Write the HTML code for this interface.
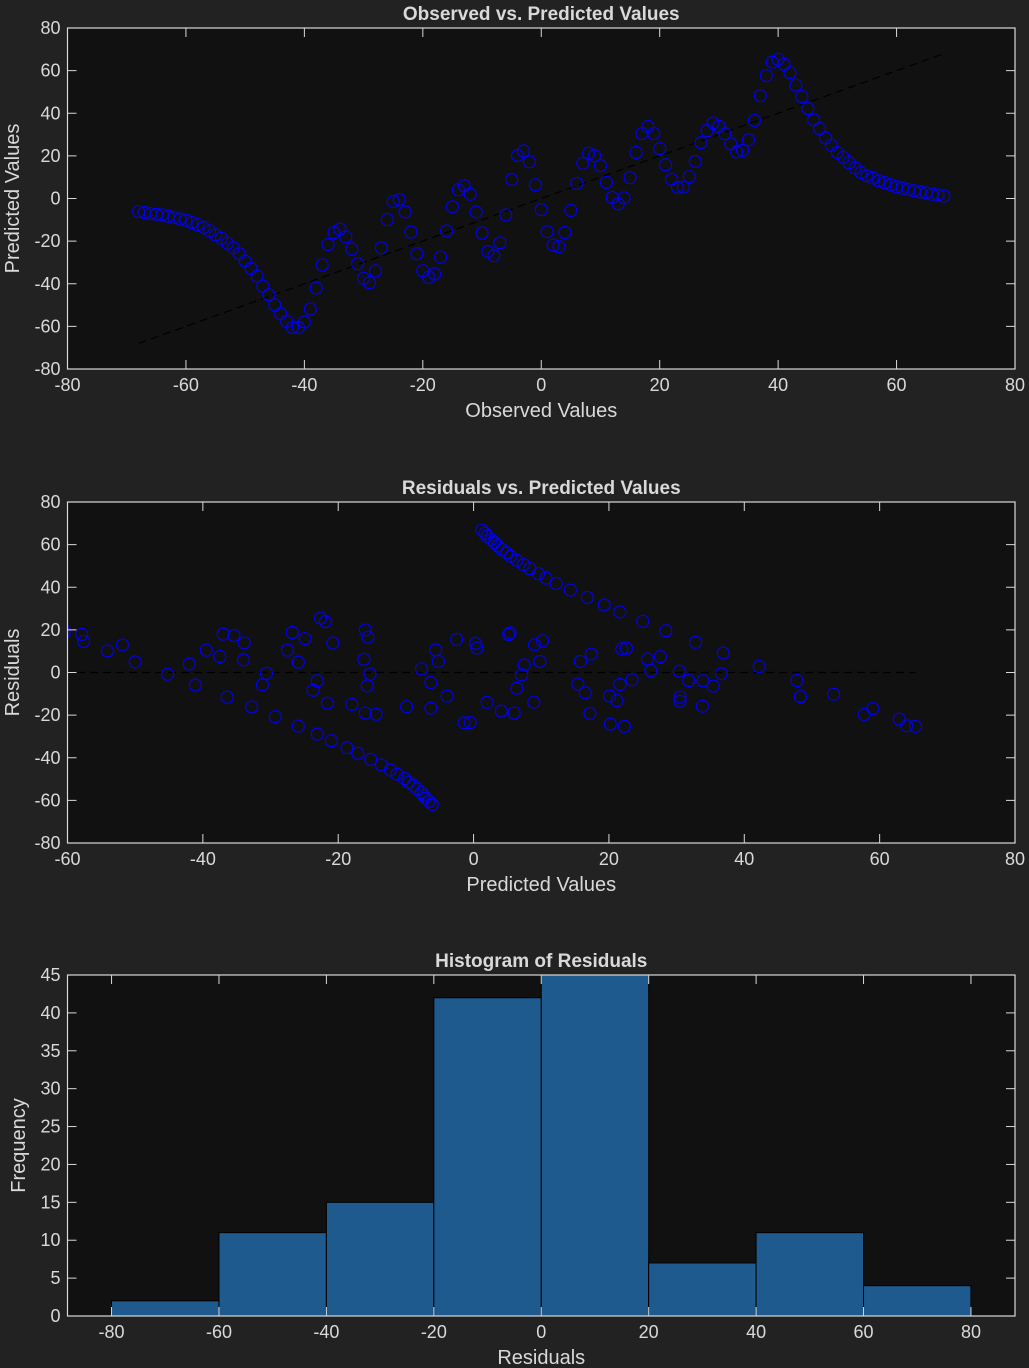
<!DOCTYPE html>
<html><head><meta charset="utf-8"><style>
html,body{margin:0;padding:0;background:#222222;}
svg{display:block;font-family:"Liberation Sans",Arial,sans-serif;}
</style></head><body>
<svg id="fig" width="1029" height="1368" viewBox="0 0 1029 1368" xmlns="http://www.w3.org/2000/svg">
<rect x="0" y="0" width="1029" height="1368" fill="#222222"/>
</svg>
<script>
const observed = [-68,-67,-66,-65,-64,-63,-62,-61,-60,-59,-58,-57,-56,-55,-54,-53,-52,-51,-50,-49,-48,-47,-46,-45,-44,-43,-42,-41,-40,-39,-38,-37,-36,-35,-34,-33,-32,-31,-30,-29,-28,-27,-26,-25,-24,-23,-22,-21,-20,-19,-18,-17,-16,-15,-14,-13,-12,-11,-10,-9,-8,-7,-6,-5,-4,-3,-2,-1,0,1,2,3,4,5,6,7,8,9,10,11,12,13,14,15,16,17,18,19,20,21,22,23,24,25,26,27,28,29,30,31,32,33,34,35,36,37,38,39,40,41,42,43,44,45,46,47,48,49,50,51,52,53,54,55,56,57,58,59,60,61,62,63,64,65,66,67,68];
const predicted = [-6.1,-6.6,-7.1,-7.4,-7.7,-8.3,-8.9,-9.6,-10.2,-11.3,-12.3,-13.6,-15.2,-17.1,-18.7,-21.0,-23.1,-25.9,-29.3,-32.8,-36.4,-41.1,-45.2,-50.0,-54.1,-57.6,-60.5,-60.5,-57.9,-51.9,-42.0,-31.2,-21.6,-16.0,-14.4,-18.0,-23.7,-30.6,-37.5,-39.5,-34.0,-23.1,-9.9,-1.4,-0.5,-6.3,-15.7,-25.9,-33.9,-37.0,-35.4,-27.5,-15.3,-3.9,4.1,6.0,2.0,-6.3,-16.2,-24.9,-26.8,-20.8,-7.7,8.9,20.2,22.3,17.2,6.4,-5.2,-15.6,-21.9,-22.6,-16.0,-5.6,7.1,16.5,21.2,20.1,15.4,7.5,0.5,-2.5,0.3,9.8,21.6,30.5,33.8,30.5,23.4,15.8,9.0,5.2,5.4,10.2,17.4,26.2,31.8,35.4,33.9,30.4,25.7,21.9,22.6,27.6,36.6,48.3,57.7,64.0,65.3,62.9,59.0,53.2,47.8,42.2,36.9,32.8,28.4,25.0,21.6,19.3,16.8,14.3,12.2,10.7,9.6,8.3,7.4,6.4,5.5,4.9,4.2,3.6,3.1,2.6,2.0,1.7,1.2];
const histBinEdges = [-80,-60,-40,-20,0,20,40,60,80];
const histCounts = [2,11,15,42,45,7,11,4];
const ticks1X = [-80,-60,-40,-20,0,20,40,60,80];
const ticks1Y = [-80,-60,-40,-20,0,20,40,60,80];
const ticks2X = [-60,-40,-20,0,20,40,60,80];
const ticks2Y = [-80,-60,-40,-20,0,20,40,60,80];
const ticks3X = [-80,-60,-40,-20,0,20,40,60,80];
const ticks3Y = [0,5,10,15,20,25,30,35,40,45];

const NS = "http://www.w3.org/2000/svg";
const fig = document.getElementById('fig');
function mk(tag, attrs, parent){
  const e = document.createElementNS(NS, tag);
  for (const k in attrs) e.setAttribute(k, attrs[k]);
  (parent||fig).appendChild(e);
  return e;
}
function scale(d0,d1,r0,r1){ return v => r0 + (v-d0)/(d1-d0)*(r1-r0); }
const TXT = "#d9d9d9";
const defs = mk('defs', {});
let clipN = 0;

function axes(name, box, xd, yd, xt, yt, title, xl, yl, ylx){
  const g = mk('g', {});
  
  
  const bg = mk('rect', {x:box.l, y:box.t, width:box.r-box.l, height:box.b-box.t, fill:'#111111'}, g);
  
  
  const sx = scale(xd[0], xd[1], box.l, box.r);
  const sy = scale(yd[0], yd[1], box.b, box.t);
  const cid = 'clip' + (clipN++);
  const cp = mk('clipPath', {id:cid}, defs);
  mk('rect', {x:box.l, y:box.t, width:box.r-box.l, height:box.b-box.t}, cp);
  const marks = mk('g', {'clip-path':'url(#'+cid+')'}, g);
  
  
  const tg = mk('g', {}, g);
  
  
  xt.forEach(v => {
    const x = sx(v);
    mk('line', {x1:x, y1:box.b, x2:x, y2:box.b-9, stroke:TXT, 'stroke-width':1}, tg);
    mk('line', {x1:x, y1:box.t, x2:x, y2:box.t+9, stroke:TXT, 'stroke-width':1}, tg);
    const t = mk('text', {x:x, y:box.b+22, fill:TXT, 'font-size':18, 'text-anchor':'middle'}, tg);
    t.textContent = v;
    
    
  });
  yt.forEach(v => {
    const y = sy(v);
    mk('line', {x1:box.l, y1:y, x2:box.l+9, y2:y, stroke:TXT, 'stroke-width':1}, tg);
    mk('line', {x1:box.r, y1:y, x2:box.r-9, y2:y, stroke:TXT, 'stroke-width':1}, tg);
    const t = mk('text', {x:box.l-7, y:y+6, fill:TXT, 'font-size':18, 'text-anchor':'end'}, tg);
    t.textContent = v;
    
    
  });
  const bd = mk('rect', {x:box.l, y:box.t, width:box.r-box.l, height:box.b-box.t, fill:'none', stroke:TXT, 'stroke-width':1.2}, g);
  
  
  const ti = mk('text', {x:(box.l+box.r)/2, y:box.t-8, fill:TXT, 'font-size':19, 'font-weight':'bold', 'text-anchor':'middle'}, g);
  ti.textContent = title;
  
  
  const xa = mk('text', {x:(box.l+box.r)/2, y:box.b+48, fill:TXT, 'font-size':20, 'text-anchor':'middle'}, g);
  xa.textContent = xl;
  
  
  const cy = (box.t+box.b)/2;
  const ya = mk('text', {x:ylx, y:cy, fill:TXT, 'font-size':20, 'text-anchor':'middle', transform:'rotate(-90 '+ylx+' '+cy+')'}, g);
  ya.textContent = yl;
  
  
  return {sx, sy, marks};
}

// Plot 1
const a1 = axes('observed-vs-predicted-chart', {l:67.5, r:1015, t:28, b:369}, [-80,80], [-80,80], ticks1X, ticks1Y,
  'Observed vs. Predicted Values', 'Observed Values', 'Predicted Values', 19);
const oMin = Math.min(...observed), oMax = Math.max(...observed);
const ref1 = mk('line', {x1:a1.sx(oMin), y1:a1.sy(oMin), x2:a1.sx(oMax), y2:a1.sy(oMax), stroke:'#000000', 'stroke-width':1.2, 'stroke-dasharray':'8,5'}, a1.marks);


observed.forEach((o,i) => {
  const c = mk('circle', {cx:a1.sx(o), cy:a1.sy(predicted[i]), r:6, fill:'none', stroke:'#0000ff', 'stroke-width':1.1}, a1.marks);
  
  
});

// Plot 2
const a2 = axes('residuals-vs-predicted-chart', {l:67.5, r:1015, t:502, b:843}, [-60,80], [-80,80], ticks2X, ticks2Y,
  'Residuals vs. Predicted Values', 'Predicted Values', 'Residuals', 19);
const pMin = Math.min(...predicted), pMax = Math.max(...predicted);
const ref2 = mk('line', {x1:a2.sx(pMin), y1:a2.sy(0), x2:a2.sx(pMax), y2:a2.sy(0), stroke:'#000000', 'stroke-width':1.2, 'stroke-dasharray':'8,5'}, a2.marks);


predicted.forEach((p,i) => {
  const r = observed[i] - p;
  const c = mk('circle', {cx:a2.sx(p), cy:a2.sy(r), r:6, fill:'none', stroke:'#0000ff', 'stroke-width':1.1}, a2.marks);
  
  
});

// Plot 3
const a3 = axes('residual-histogram-chart', {l:67.5, r:1015, t:975, b:1316}, [-88.2,88.2], [0,45], ticks3X, ticks3Y,
  'Histogram of Residuals', 'Residuals', 'Frequency', 25);
histCounts.forEach((n,i) => {
  const x0 = a3.sx(histBinEdges[i]), x1 = a3.sx(histBinEdges[i+1]);
  const y = a3.sy(n), y0 = a3.sy(0);
  const b = mk('rect', {x:x0, y:y, width:x1-x0, height:y0-y, fill:'#1f5a8e', stroke:'#000000', 'stroke-width':1}, a3.marks);
  
  
});
</script>
</body></html>
